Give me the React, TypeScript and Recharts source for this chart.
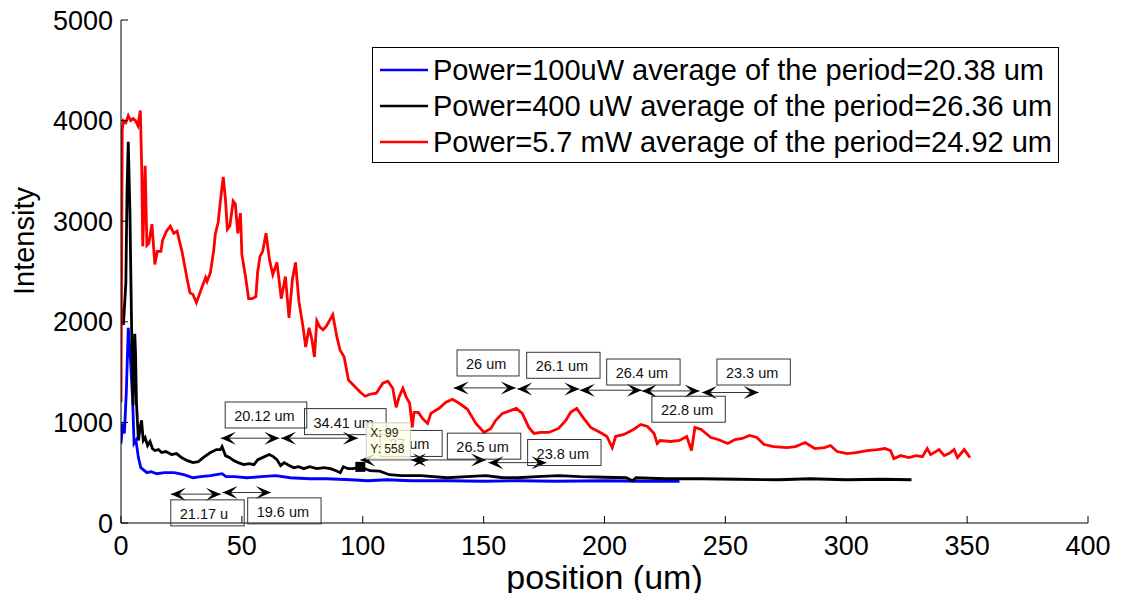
import { Legend, Line, LineChart, ReferenceDot, ReferenceLine, XAxis, YAxis } from "recharts";

const xTicks = [0, 50, 100, 150, 200, 250, 300, 350, 400];
const yTicks = [0, 1000, 2000, 3000, 4000, 5000];

// [position (um), intensity]
const blue100uW: [number, number][] = [
  [0, 790], [0.7, 990], [1.4, 890], [2.2, 1300], [3, 1940], [4, 1590], [4.8, 1230], [5.4, 790], [6.2, 820],
  [7.2, 650], [8.2, 550], [10.7, 500], [12.5, 510], [14.8, 490], [18, 500], [22, 500], [26, 480], [29.8, 450],
  [33, 460], [37, 470], [41.8, 490], [43.5, 460], [47, 460], [52, 450], [58, 460], [64, 470], [70, 450],
  [78, 440], [85, 440], [95, 430], [102, 420], [110, 430], [120, 420], [135, 420], [150, 415], [165, 420],
  [180, 415], [200, 420], [215, 415], [231, 415]
];

const black400uW: [number, number][] = [
  [0, 2050], [0.5, 2120], [1, 1970], [2, 2380], [2.5, 3300], [3, 3790], [3.7, 3080], [4.4, 1920], [5, 1170],
  [5.7, 1880], [6, 1700], [6.4, 1190], [7.2, 820], [8, 960], [8.5, 1020], [9.2, 820], [10, 850], [11, 770],
  [12, 810], [13, 740], [14, 720], [15.5, 730], [16.8, 700], [18.5, 710], [20.9, 680], [23, 690], [25, 650],
  [27.5, 620], [29.8, 600], [32, 610], [34, 650], [37, 700], [39.5, 730], [41.1, 730], [41.8, 760], [43.2, 670],
  [45, 650], [46.6, 620], [48.5, 600], [50.7, 580], [53, 590], [55, 580], [56.6, 630], [58.5, 650], [61.3, 680],
  [63, 660], [64.5, 630], [66, 570], [67.5, 600], [69, 580], [71.5, 550], [73.5, 560], [75.6, 540], [78, 560],
  [81, 540], [84, 550], [86.6, 540], [89, 520], [90.7, 500], [92, 560], [94, 540], [96, 540], [99, 558],
  [103, 520], [107, 515], [111, 480], [116, 470], [124, 470], [135, 450], [143, 460], [151, 470], [158, 450],
  [164, 450], [172, 460], [181, 470], [190, 460], [200, 455], [209, 450], [211.6, 420], [213, 450], [225, 440],
  [240, 440], [255, 435], [272, 430], [285, 440], [300, 430], [315, 435], [327, 430]
];

const red5mW: [number, number][] = [
  [0, 1200], [0.5, 3900], [1, 4000], [2, 3980], [3, 4050], [4, 4000], [5, 4020], [6, 4000], [7, 3950],
  [8, 4100], [8.6, 3500], [9, 2750], [10, 3550], [10.7, 2760], [11.5, 2780], [12.8, 2970], [14, 2570],
  [15, 2700], [16.5, 2700], [17.2, 2810], [18.8, 2900], [20.4, 2950], [21.8, 2880], [23.2, 2900], [25.3, 2690],
  [27.4, 2420], [28.5, 2290], [29.8, 2270], [31.2, 2190], [33.6, 2350], [35, 2440], [35.6, 2400], [37, 2490],
  [38.4, 2720], [39, 2870], [40.2, 2990], [41.2, 3220], [42.3, 3440], [43.2, 3220], [44, 2920], [45, 2950],
  [46.4, 3200], [47.3, 3170], [48.3, 2880], [49.4, 3080], [50, 2670], [51.5, 2450], [52.8, 2230], [54.2, 2230],
  [55.8, 2250], [56.5, 2490], [57.5, 2650], [58.6, 2700], [60, 2880], [61.4, 2620], [62.8, 2470], [64.5, 2590],
  [66.3, 2230], [68, 2450], [69.5, 2040], [70.9, 2420], [72.2, 2590], [73.6, 2200], [75.3, 1950], [76.4, 1750],
  [77.8, 1940], [79, 1820], [80, 1650], [81, 2010], [82.2, 1950], [83.6, 1920], [85, 1960], [87.6, 2070],
  [89.3, 1850], [90.6, 1720], [92.3, 1650], [94.1, 1420], [96.2, 1370], [99, 1300], [101, 1260], [103, 1280],
  [105.6, 1290], [108.3, 1390], [110.4, 1410], [112.4, 1340], [113.8, 1150], [115, 1250], [116.6, 1340],
  [118, 1250], [119.4, 1190], [120.5, 950], [121.2, 1100], [123, 1100], [124.7, 1040], [126.8, 990],
  [128.2, 1090], [131.6, 1140], [134.4, 1200], [137.1, 1230], [139.9, 1190], [143.3, 1130], [146.8, 990],
  [150.2, 900], [153, 940], [155, 1020], [157.8, 1090], [161.3, 1120], [163.5, 1140], [166, 1090], [168.7, 950],
  [170.8, 890], [173.5, 900], [177, 900], [181, 940], [184, 1020], [186, 1100], [188.5, 1140], [190.8, 1060],
  [194.3, 950], [199, 890], [201, 860], [203.2, 750], [204.6, 860], [208, 880], [212, 930], [215, 980],
  [217.8, 960], [220.5, 890], [221.8, 790], [223, 820], [227.4, 810], [231, 820], [234, 860], [236, 720],
  [237.4, 950], [240, 930], [244, 850], [247, 830], [251, 790], [254, 830], [257, 840], [260, 870], [263, 850],
  [266, 780], [270, 760], [275.5, 750], [279, 760], [283, 800], [287, 740], [291, 750], [293.5, 770],
  [296.2, 710], [300.4, 690], [304, 700], [308.7, 720], [312.8, 730], [316, 740], [318.3, 720], [319.7, 640],
  [322.5, 670], [325.9, 650], [329, 670], [331.5, 660], [333.5, 740], [334.9, 680], [338.4, 730], [340.5, 670],
  [342.5, 690], [344.6, 730], [346, 650], [348.8, 730], [351.2, 650]
];

const seriesNames = [
  "Power=100uW average of the period=20.38 um",
  "Power=400 uW average of the period=26.36 um",
  "Power=5.7 mW average of the period=24.92 um"
];
const seriesColors = ["#0000ff", "#000000", "#ff0000"];
const seriesPoints = [blue100uW, black400uW, red5mW];

// period markers: label, arrow from/to (um), arrow height, label box corner (um, intensity)
const periods = [
  { label: "21.17 u", from: 20.6, to: 41.3, at: 287, boxX: 20.6, boxY: 230 },
  { label: "19.6 um", from: 42, to: 62, at: 303, boxX: 52.4, boxY: 250 },
  { label: "20.12 um", from: 41.3, to: 65.5, at: 843, boxX: 43.1, boxY: 1203 },
  { label: "34.41 um", from: 66.2, to: 98, at: 843, boxX: 75.9, boxY: 1137 },
  { label: "27 um", from: 99, to: 127, at: 627, boxX: 107.2, boxY: 920 },
  { label: "26.5 um", from: 120, to: 151, at: 627, boxX: 135, boxY: 893 },
  { label: "23.8 um", from: 152, to: 176, at: 600, boxX: 168.2, boxY: 830 },
  { label: "26 um", from: 137.6, to: 163.3, at: 1343, boxX: 139, boxY: 1720 },
  { label: "26.1 um", from: 163.9, to: 189.6, at: 1333, boxX: 167.8, boxY: 1697 },
  { label: "26.4 um", from: 189.8, to: 215.4, at: 1320, boxX: 200.9, boxY: 1630 },
  { label: "22.8 um", from: 215.4, to: 239.3, at: 1313, boxX: 219.6, boxY: 1260 },
  { label: "23.3 um", from: 240.3, to: 263.8, at: 1297, boxX: 246.5, boxY: 1630 }
];

const tipX = 99;
const tipY = 558;

const FONT = "'Liberation Sans', Arial, sans-serif";

function DoubleArrow(props: any) {
  const { x1, y1, x2, y2 } = props;
  const dx = x2 - x1;
  const dy = y2 - y1;
  const len = Math.hypot(dx, dy) || 1;
  const ux = dx / len;
  const uy = dy / len;
  const head = (tx: number, ty: number, sx: number, sy: number) => {
    const L = 15;
    const w = 6.5;
    const nx = -sy;
    const ny = sx;
    return `${tx},${ty} ${tx - sx * L + nx * w},${ty - sy * L + ny * w} ${tx - sx * L * 0.55},${ty - sy * L * 0.55} ${tx - sx * L - nx * w},${ty - sy * L - ny * w}`;
  };
  return (
    <g>
      <line x1={x1} y1={y1} x2={x2} y2={y2} stroke="#333" strokeWidth={1} />
      <polygon points={head(x2, y2, ux, uy)} fill="#000" />
      <polygon points={head(x1, y1, -ux, -uy)} fill="#000" />
    </g>
  );
}

function labelBox(label: string) {
  return (props: any) => {
    const { cx, cy } = props;
    const w = Math.max(62, label.length * 8.2 + 16);
    return (
      <g>
        <rect x={cx} y={cy} width={w} height={26} fill="none" stroke="#333" strokeWidth={1} />
        <text x={cx + 9} y={cy + 19} fontSize={14.5} fill="#111" fontFamily={FONT}>
          {label}
        </text>
      </g>
    );
  };
}

function DataTip(props: any) {
  const { cx, cy } = props;
  return (
    <g>
      <rect x={cx - 5} y={cy - 5} width={10} height={10} fill="#000" />
      <rect x={cx + 6} y={cy - 44} width={44} height={36} fill="rgba(255,255,225,0.8)" stroke="#ccc" strokeWidth={1} />
      <text x={cx + 10} y={cy - 30} fontSize={12} fill="#222" fontFamily={FONT}>X: {tipX}</text>
      <text x={cx + 10} y={cy - 14} fontSize={12} fill="#222" fontFamily={FONT}>Y: {tipY}</text>
    </g>
  );
}

function XTitle(props: any) {
  const vb = props.viewBox;
  return (
    <text x={vb.x + vb.width / 2} y={vb.y + 66} textAnchor="middle" fontSize={34} fill="#000" fontFamily={FONT}>
      position (um)
    </text>
  );
}

function YTitle() {
  return (
    <text x={26} y={233} transform="rotate(-90 26 233)" textAnchor="middle" fontSize={29} fill="#000" fontFamily={FONT}>
      Intensity
    </text>
  );
}

function LegendBox() {
  return (
    <svg width={688} height={117} style={{ display: "block" }}>
      <rect x={0.5} y={0.5} width={686} height={115} fill="#fff" stroke="#000" strokeWidth={1} />
      {seriesNames.map((name, i) => (
        <g key={name}>
          <line x1={8} x2={56} y1={23 + i * 36} y2={23 + i * 36} stroke={seriesColors[i]} strokeWidth={2.5} />
          <text x={61} y={33 + i * 36} fontSize={29} fill="#000" fontFamily={FONT}>
            {name}
          </text>
        </g>
      ))}
    </svg>
  );
}

export default function App() {
  return (
    <LineChart width={1110} height={585} margin={{ top: 12, right: 30, left: 0, bottom: 10 }} style={{ fontFamily: FONT }}>
      <XAxis
        xAxisId="b"
        type="number"
        dataKey="x"
        domain={[0, 400]}
        ticks={xTicks}
        interval={0}
        allowDataOverflow
        height={60}
        tickSize={-7}
        tickMargin={20}
        axisLine={{ stroke: "#000" }}
        tickLine={{ stroke: "#000" }}
        tick={{ fill: "#000", fontSize: 27 }}
        label={{ value: "position (um)", content: XTitle }}
      />
      <XAxis
        xAxisId="t"
        orientation="top"
        type="number"
        dataKey="x"
        domain={[0, 400]}
        ticks={xTicks}
        allowDataOverflow
        height={0}
        tickSize={-7}
        tick={false}
        axisLine={{ stroke: "#000" }}
        tickLine={{ stroke: "#000" }}
      />
      <YAxis
        yAxisId="l"
        type="number"
        domain={[0, 5000]}
        ticks={yTicks}
        interval={0}
        allowDataOverflow
        width={113}
        tickSize={-7}
        tickMargin={15}
        axisLine={{ stroke: "#000" }}
        tickLine={{ stroke: "#000" }}
        tick={{ fill: "#000", fontSize: 27 }}
        label={{ value: "Intensity", content: YTitle }}
      />
      <YAxis
        yAxisId="r"
        orientation="right"
        type="number"
        domain={[0, 5000]}
        ticks={yTicks}
        allowDataOverflow
        width={0}
        tickSize={-7}
        tick={false}
        axisLine={{ stroke: "#000" }}
        tickLine={{ stroke: "#000" }}
      />
      {seriesPoints.map((pts, i) => (
        <Line
          key={seriesNames[i]}
          name={seriesNames[i]}
          xAxisId="b"
          yAxisId="l"
          data={pts.map(([x, y]) => ({ x, y }))}
          dataKey="y"
          type="linear"
          stroke={seriesColors[i]}
          strokeWidth={2.8}
          dot={false}
          activeDot={false}
          isAnimationActive={false}
        />
      ))}
      {periods.map((p) => (
        <ReferenceLine
          key={"a" + p.label}
          xAxisId="b"
          yAxisId="l"
          segment={[{ x: p.from, y: p.at }, { x: p.to, y: p.at }]}
          ifOverflow="visible"
          shape={DoubleArrow}
        />
      ))}
      {periods.map((p) => (
        <ReferenceDot
          key={"b" + p.label}
          xAxisId="b"
          yAxisId="l"
          x={p.boxX}
          y={p.boxY}
          r={1}
          ifOverflow="visible"
          shape={labelBox(p.label)}
        />
      ))}
      <ReferenceDot xAxisId="b" yAxisId="l" x={tipX} y={tipY} r={1} ifOverflow="visible" shape={DataTip} />
      <Legend
        layout="vertical"
        align="center"
        verticalAlign="middle"
        wrapperStyle={{ left: 364, top: 39, width: 688, height: 117 }}
        content={LegendBox}
      />
    </LineChart>
  );
}
